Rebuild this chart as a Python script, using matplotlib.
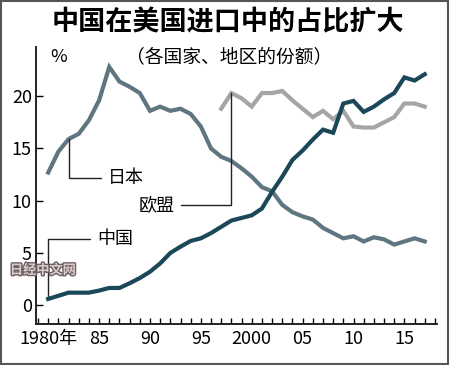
import matplotlib
matplotlib.use("Agg")
import matplotlib.pyplot as plt
import matplotlib.patheffects as pe
from matplotlib.patches import Rectangle
from matplotlib.ticker import MultipleLocator

plt.rcParams['font.family'] = ['Noto Sans CJK SC', 'DejaVu Sans']

# share of US imports, %
years = list(range(1980, 2018))
japan = [12.7, 14.7, 15.9, 16.4, 17.7, 19.6, 22.8, 21.4, 20.9, 20.3,
         18.6, 19.0, 18.6, 18.8, 18.3, 17.1, 15.0, 14.2, 13.8, 13.1,
         12.3, 11.3, 10.9, 9.6, 8.9, 8.5, 8.2, 7.4, 6.9, 6.4,
         6.6, 6.1, 6.5, 6.3, 5.8, 6.1, 6.4, 6.1]
china = [0.6, 0.9, 1.2, 1.2, 1.2, 1.4, 1.65, 1.65, 2.1, 2.6,
         3.2, 4.0, 5.0, 5.6, 6.15, 6.4, 6.9, 7.5, 8.1, 8.35,
         8.6, 9.25, 10.85, 12.3, 13.9, 14.8, 15.85, 16.8, 16.5, 19.3,
         19.55, 18.5, 19.0, 19.7, 20.3, 21.8, 21.5, 22.1]
eu_years = list(range(1997, 2018))
eu = [18.8, 20.3, 19.8, 19.0, 20.3, 20.3, 20.5, 19.6, 18.8, 18.0,
      18.6, 17.8, 18.6, 17.1, 17.0, 17.0, 17.5, 18.0, 19.3, 19.3, 19.0]

xtick_pos = [1980, 1985, 1990, 1995, 2000, 2005, 2010, 2015]
xtick_lab = ['1980年', '85', '90', '95', '2000', '05', '10', '15']
ytick_pos = [0, 5, 10, 15, 20]

fig = plt.figure(figsize=(4.5, 3.65), dpi=100)
ax = fig.add_axes([0.08, 0.1123, 0.891, 0.7587])

ax.plot(years, japan, color='#5f7580', lw=3, solid_joinstyle='miter', zorder=3)
ax.plot(eu_years, eu, color='#a5a5a5', lw=3, solid_joinstyle='miter', zorder=3)
ax.plot(years, china, color='#1b4858', lw=3, solid_joinstyle='miter', zorder=4)

ax.set_xlim(1978.8, 2018.2)
ax.set_ylim(-1.8, 24.7)
ax.set_xticks(xtick_pos)
ax.set_xticklabels(xtick_lab)
ax.xaxis.set_minor_locator(MultipleLocator(1))
ax.set_yticks(ytick_pos)
ax.tick_params(axis='x', which='both', direction='in', length=4, width=1,
               labelsize=13, pad=4)
ax.tick_params(axis='y', direction='in', length=5, width=1, labelsize=13, pad=3)
for s in ['top', 'right']:
    ax.spines[s].set_visible(False)
for s in ['left', 'bottom']:
    ax.spines[s].set_linewidth(1.4)
    ax.spines[s].set_color('#222222')

conn = dict(arrowstyle='-', color='#222222', lw=1,
            shrinkA=3, shrinkB=0)
ax.annotate('日本', xy=(years[2], japan[2]), xytext=(1985.9, 12.2),
            ha='left', va='center', fontsize=13,
            arrowprops=dict(conn, connectionstyle='angle,angleA=0,angleB=90,rad=0'))
ax.annotate('欧盟', xy=(eu_years[1], eu[1]), xytext=(1992.4, 9.6),
            ha='right', va='center', fontsize=13,
            arrowprops=dict(conn, connectionstyle='angle,angleA=0,angleB=90,rad=0'))
ax.annotate('中国', xy=(years[0], china[0]), xytext=(1984.8, 6.3),
            ha='left', va='center', fontsize=13,
            arrowprops=dict(conn, connectionstyle='angle,angleA=0,angleB=90,rad=0'))

fig.text(0.507, 1 - 22 / 365, '中国在美国进口中的占比扩大', ha='center', va='center',
         fontsize=19.5, fontweight='bold')
fig.text(0.509, 1 - 57 / 365, '（各国家、地区的份额）', ha='center', va='center',
         fontsize=13.5)
fig.text(50 / 450, 1 - 57 / 365, '%', ha='left', va='center', fontsize=13)

wm = fig.text(43 / 450, 1 - 270 / 365, '日经中文网', ha='center', va='center',
              fontsize=9.5, fontweight='bold', color='#dccccc', zorder=0)
wm.set_path_effects([pe.withStroke(linewidth=2, foreground='#6d6060')])

fig.patches.append(Rectangle((0.003, 0.004), 0.993, 0.992, transform=fig.transFigure,
                             fill=False, ec='#555555', lw=1.5))

fig.savefig('out.png', dpi=100)
